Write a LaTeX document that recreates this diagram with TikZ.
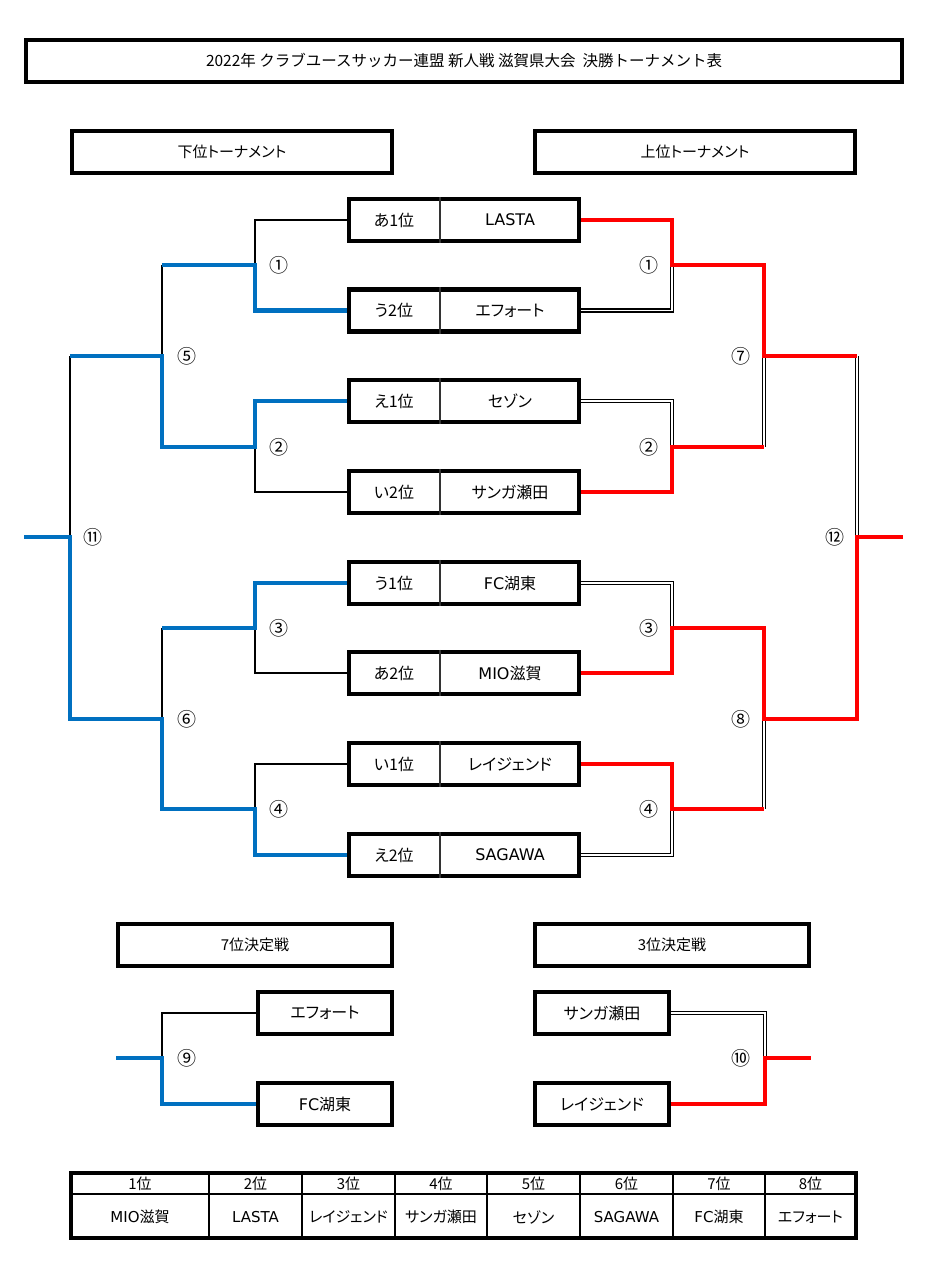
\documentclass[tikz,border=0pt]{standalone}
\usepackage{fontspec}
\setmainfont{Noto Sans CJK JP}[RawFeature=+palt]
\newfontfamily\circfont{Noto Sans CJK JP}
\newfontfamily\latfont{DejaVu Sans}
\newcommand{\lat}[1]{{\latfont #1}}
\definecolor{myblue}{RGB}{0,112,192}
\definecolor{myred}{RGB}{255,0,0}
\begin{document}
\begin{tikzpicture}[x=1pt,y=-1pt,
  hdrbox/.style={draw,line width=4.2pt,minimum width=#1,minimum height=42pt,inner sep=0pt,font=\fontsize{15}{18}\selectfont},
  teambox/.style={draw,line width=4.2pt,minimum width=#1,minimum height=42pt,inner sep=0pt},
  txt/.style={inner sep=0pt,font=\fontsize{16}{19}\selectfont},
  tbltxt/.style={inner sep=0pt,font=\fontsize{15}{18}\selectfont},
  lbl/.style={inner sep=0pt,font=\circfont\fontsize{19}{22}\selectfont},
  thinln/.style={line width=1.5pt},
  dbl/.style={draw=black,line width=1.2pt,double=white,double distance=1.8pt},
  bl/.style={draw=myblue,line width=4.2pt},
  rd/.style={draw=myred,line width=4.2pt},
  divln/.style={line width=1.5pt,draw=black!80}]
\useasboundingbox (0,0) rectangle (937,1285);

% title and headers
\node[hdrbox=876pt,font=\circfont\fontsize{15.5}{18}\selectfont] (title) at (464,61) {2022年 クラブユースサッカー連盟 新人戦 滋賀県大会\ \ 決勝トーナメント表};
\node[hdrbox=320pt] (lower) at (232,152) {下位トーナメント};
\node[hdrbox=320pt] (upper) at (695,152) {上位トーナメント};

% team boxes
\foreach \i/\y/\r/\n in {1/220/あ1位/\lat{LASTA}, 2/310.5/う2位/エフォート, 3/401/え1位/セゾン, 4/492/い2位/サンガ瀬田,
  5/583/う1位/\lat{FC}湖東, 6/673/あ2位/\lat{MIO}滋賀, 7/764/い1位/レイジェンド, 8/855/え2位/\lat{SAGAWA}}{
  \node[teambox=230pt] (t\i) at (464,\y) {};
  \node[txt] (r\i) at (394,\y) {\r};
  \node[txt] (n\i) at (510,\y) {\n};
  \draw[divln] (t\i.north -| 440,0) -- (t\i.south -| 440,0);
}

% junction coordinates
\coordinate (L1) at (255,265);
\coordinate (L2) at (255,447);
\coordinate (L3) at (255,628);
\coordinate (L4) at (255,809);
\coordinate (L5) at (162,356);
\coordinate (L6) at (162,719);
\coordinate (L11) at (70,537);
\coordinate (Lout) at (24,537);
\coordinate (R1) at (672,265);
\coordinate (R2) at (672,447);
\coordinate (R3) at (672,628);
\coordinate (R4) at (672,809);
\coordinate (R7) at (764,356);
\coordinate (R8) at (764,719);
\coordinate (R12) at (857,537);
\coordinate (Rout) at (903,537);

% left: thin lines
\draw[thinln] (t1.west) -| (L1);
\draw[thinln] (t4.west) -| (L2);
\draw[thinln] (t6.west) -| (L3);
\draw[thinln] (t7.west) -| (L4);
\draw[thinln] (L1 -| L5) -- (L5);
\draw[thinln] (L3 -| L6) -- (L6);
\draw[thinln] (L5 -| L11) -- (L11);
% left: blue lines
\draw[bl] (t2.west) -| (L1) -- (L1 -| L5);
\draw[bl] (t3.west) -| (L2) -- (L2 -| L5) -- (L5) -- (L5 -| L11);
\draw[bl] (t5.west) -| (L3) -- (L3 -| L6);
\draw[bl] (t8.west) -| (L4) -- (L4 -| L6) -- (L6) -- (L6 -| L11) -- (L11) -- (Lout);

% right: double lines
\draw[dbl] (t2.east) -| (R1);
\draw[dbl] (t3.east) -| (R2);
\draw[dbl] (t5.east) -| (R3);
\draw[dbl] (t8.east) -| (R4);
\draw[dbl] (R2 -| R7) -- (R7);
\draw[dbl] (R4 -| R8) -- (R8);
\draw[dbl] (R7 -| R12) -- (R12);
% right: red lines
\draw[rd] (t1.east) -| (R1) -- (R1 -| R7) -- (R7) -- (R7 -| R12);
\draw[rd] (t4.east) -| (R2) -- (R2 -| R7);
\draw[rd] (t6.east) -| (R3) -- (R3 -| R8) -- (R8) -- (R8 -| R12) -- (R12) -- (Rout);
\draw[rd] (t7.east) -| (R4) -- (R4 -| R8);

% match labels
\node[lbl] (c1l) at (279,265) {①};
\node[lbl] (c2l) at (279,447) {②};
\node[lbl] (c3l) at (279,628) {③};
\node[lbl] (c4l) at (279,809) {④};
\node[lbl] (c5) at (187,356) {⑤};
\node[lbl] (c6) at (187,719) {⑥};
\node[lbl] (c11) at (93,537) {⑪};
\node[lbl] (c1r) at (649,265) {①};
\node[lbl] (c2r) at (649,447) {②};
\node[lbl] (c3r) at (649,628) {③};
\node[lbl] (c4r) at (649,809) {④};
\node[lbl] (c7) at (741,356) {⑦};
\node[lbl] (c8) at (741,719) {⑧};
\node[lbl] (c12) at (835,537) {⑫};

% placement matches
\node[hdrbox=274pt] (p7) at (255,945) {7位決定戦};
\node[hdrbox=274pt] (p3) at (672,945) {3位決定戦};
\node[teambox=134pt,txt] (s1) at (325,1013) {エフォート};
\node[teambox=134pt,txt] (s2) at (325,1104) {\lat{FC}湖東};
\node[teambox=134pt,txt] (s3) at (602,1013) {サンガ瀬田};
\node[teambox=134pt,txt] (s4) at (602,1104) {レイジェンド};
\coordinate (M9) at (162,1058);
\coordinate (M9out) at (116,1058);
\coordinate (M10) at (765,1058);
\coordinate (M10out) at (811,1058);
\draw[thinln] (s1.west) -| (M9);
\draw[bl] (s2.west) -| (M9) -- (M9out);
\draw[dbl] (s3.east) -| (M10);
\draw[rd] (s4.east) -| (M10) -- (M10out);
\node[lbl] (c9) at (187,1058) {⑨};
\node[lbl] (c10) at (741,1058) {⑩};

% result table
\draw[line width=1.2pt] (71,1194) -- (856,1194);
\foreach \x in {209,302,395,487,580,673,765}{
  \draw[line width=1.2pt] (\x,1173) -- (\x,1238);
}
\draw[line width=4.2pt] (71,1173) rectangle (856,1238);
\foreach \i/\cx/\t in {1/140/\lat{MIO}滋賀, 2/255.5/\lat{LASTA}, 3/348.5/レイジェンド, 4/441/サンガ瀬田,
  5/533.5/セゾン, 6/626.5/\lat{SAGAWA}, 7/719/\lat{FC}湖東, 8/810.5/エフォート}{
  \node[tbltxt] (h\i) at (\cx,1184) {\i 位};
  \node[tbltxt] (v\i) at (\cx,1217) {\t};
}
\end{tikzpicture}
\end{document}
